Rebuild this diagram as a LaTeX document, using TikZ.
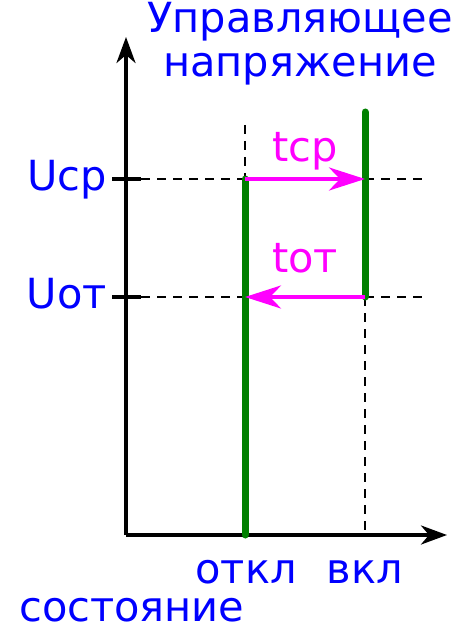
\documentclass[tikz,border=0pt]{standalone}
\usepackage{fontspec}
\setmainfont{DejaVu Sans}
\usetikzlibrary{arrows.meta}
\definecolor{lblue}{RGB}{0,0,255}
\definecolor{lmag}{RGB}{255,0,255}
\definecolor{lgreen}{RGB}{0,128,0}
\begin{document}
\begin{tikzpicture}[x=1pt,y=-1pt,
  axis/.style={line width=3.6pt,-{Stealth[length=26pt,width=19pt,inset=8pt]}},
  tickline/.style={line width=3.6pt},
  dashline/.style={line width=2pt,dash pattern=on 9pt off 7pt},
  stateline/.style={lgreen,line width=7pt,line cap=round},
  transarrow/.style={lmag,line width=3.8pt,-{Stealth[length=36pt,width=23pt,inset=11pt]}},
  bluelabel/.style={lblue,font=\fontsize{41.5}{48}\selectfont,inner sep=0pt},
  maglabel/.style={lmag,font=\fontsize{41.5}{48}\selectfont,inner sep=0pt}]
\useasboundingbox (0,0) rectangle (473,628);
% coordinates
\coordinate (O) at (126,535);
\coordinate (ytip) at (126,37);
\coordinate (xtip) at (447,535);
\coordinate (tcpL) at (112,179);
\coordinate (tcpR) at (141,179);
\coordinate (totL) at (112,297);
\coordinate (totR) at (141,297);
\coordinate (hcpA) at (141,179);
\coordinate (hcpB) at (425,179);
\coordinate (hotA) at (141,297);
\coordinate (hotB) at (425,297);
\coordinate (offTop) at (245,125);
\coordinate (offCp) at (245,179);
\coordinate (offOt) at (245,297);
\coordinate (offBot) at (245,535);
\coordinate (onTop) at (365,112);
\coordinate (onCp) at (365,179);
\coordinate (onOt) at (365,297);
\coordinate (onBot) at (365,535);
% dashed guides
\draw[dashline] (hcpA) -- (hcpB);
\draw[dashline] (hotA) -- (hotB);
\draw[dashline] (offTop) -- (offCp);
\draw[dashline] (onOt) -- (onBot);
% axes
\draw[axis] (O) -- (ytip);
\draw[axis] (O) -- (xtip);
\draw[tickline] (tcpL) -- (tcpR);
\draw[tickline] (totL) -- (totR);
% state lines
\draw[stateline] (offCp) -- (offBot);
\draw[stateline] (onTop) -- (onOt);
% transitions
\draw[transarrow] (offCp) -- (onCp);
\draw[transarrow] (onOt) -- (offOt);
% labels
\node[bluelabel,anchor=base east] (ucp) at (107,191) {Uср};
\node[bluelabel,anchor=base east] (uot) at (107,308) {Uот};
\node[maglabel,anchor=base] (tcp) at (305,162) {tср};
\node[maglabel,anchor=base] (tot) at (305,272) {tот};
\node[bluelabel,anchor=base] (otkl) at (246,583) {откл};
\node[bluelabel,anchor=base] (vkl) at (365,583) {вкл};
\node[bluelabel,anchor=base west] (sost) at (19,621) {состояние};
\node[bluelabel,anchor=base] (upr1) at (300,33) {Управляющее};
\node[bluelabel,anchor=base] (upr2) at (300,77) {напряжение};
\end{tikzpicture}
\end{document}
